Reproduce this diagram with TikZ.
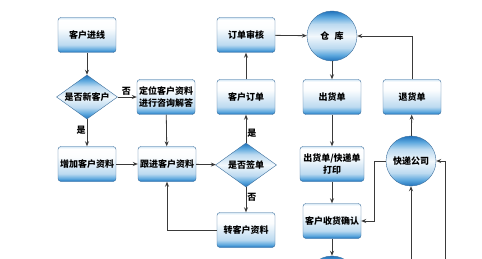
\documentclass[tikz,border=0pt]{standalone}
\usepackage{fontspec}
\newfontfamily\cjk{Noto Sans CJK SC}
\usetikzlibrary{arrows.meta, positioning, shapes.geometric}
\usepackage{xcolor}
\definecolor{edgeblue}{HTML}{3C6E9C}
\definecolor{bandblue}{HTML}{1F72BC}
\definecolor{midblue}{HTML}{5DA8DE}
\definecolor{paleblue}{HTML}{BCDAF0}
\definecolor{topblue}{HTML}{D2E6F5}
\definecolor{linegray}{HTML}{3A3A3A}
\pgfdeclareverticalshading{boxshade}{100bp}{color(0bp)=(bandblue); color(25bp)=(bandblue); color(29bp)=(midblue); color(36bp)=(paleblue); color(60bp)=(white!95!paleblue); color(72bp)=(white); color(75bp)=(topblue); color(100bp)=(topblue)}
\pgfdeclareverticalshading{roundshade}{100bp}{color(0bp)=(bandblue); color(25bp)=(bandblue); color(31bp)=(midblue); color(38bp)=(paleblue); color(50bp)=(white!80!paleblue); color(62bp)=(paleblue); color(69bp)=(midblue); color(75bp)=(bandblue); color(100bp)=(bandblue)}

\begin{document}
\begin{tikzpicture}[
    x=1pt, y=-1pt,
    entity/.style={draw=edgeblue, rectangle, rounded corners=3pt, minimum width=58pt,
                   minimum height=35pt, inner sep=1pt, align=center, shading=boxshade,
                   font=\cjk\bfseries\fontsize{9}{12}\selectfont},
    decision/.style={draw=edgeblue, diamond, aspect=1.4, minimum width=61pt,
                     minimum height=44pt, inner sep=0pt, shading=roundshade,
                     font=\cjk\bfseries\fontsize{9}{11}\selectfont},
    store/.style={draw=edgeblue, circle, minimum size=50pt, inner sep=0pt,
                  shading=roundshade, font=\cjk\bfseries\fontsize{9}{11}\selectfont},
    arrow/.style={-{Stealth[length=5pt, width=4pt]}, thick, draw=linegray},
    lbl/.style={font=\cjk\bfseries\fontsize{9}{10}\selectfont, inner sep=1pt},
]
\useasboundingbox (0,0) rectangle (482,259);
\clip (0,0) rectangle (482,259);
\fill[white] (0,0) rectangle (482,259);

% left part
\node[entity] (jx) at (87,35) {客户进线};
\node[decision] (xkh) at (87,97) {是否新客户};
\node[entity] (dw) at (166,97) {定位客户资料\\进行咨询解答};
\node[entity] (zj) at (87,164) {增加客户资料};
\node[entity] (gj) at (167,164) {跟进客户资料};

% middle part
\node[decision] (qd) at (246,165) {是否签单};
\node[entity] (dd) at (246,97) {客户订单};
\node[entity] (sh) at (246,35) {订单审核};
\node[entity] (zk) at (246,230) {转客户资料};

% right part
\node[store] (ck) at (332,36) {仓\hspace{0.6em}库};
\node[entity] (chd) at (332,97) {出货单};
\node[entity, minimum width=64pt] (dy) at (332,164) {出货单/快递单\\打印};
\node[entity] (sq) at (332,221) {客户收货确认};
\node[store] (nx) at (332,281) {};
\node[entity] (th) at (412,97) {退货单};
\node[store] (kd) at (411,161) {快递公司};
\coordinate (in1) at (411,270);
\coordinate (in2) at (445,270);

\draw[arrow] (jx) -- (xkh);
\draw[arrow] (xkh) -- node[lbl, above, pos=0.45] {否} (dw);
\draw[arrow] (xkh) -- node[lbl, left, pos=0.4] {是} (zj);
\draw[arrow] (dw) -- (gj);
\draw[arrow] (zj) -- (gj);
\draw[arrow] (gj) -- (qd);
\draw[arrow] (qd) -- node[lbl, right, pos=0.35] {是} (dd);
\draw[arrow] (dd) -- (sh);
\draw[arrow] (qd) -- node[lbl, right, pos=0.4] {否} (zk);
\draw[arrow] (zk) -| (gj);
\draw[arrow] (sh) -- (ck);
\draw[arrow] (ck) -- (chd);
\draw[arrow] (chd) -- (dy);
\draw[arrow] (dy) -- (sq);
\draw[arrow] (sq) -- (nx);
\draw[arrow] (th) |- (ck);
\draw[arrow] (kd) -- (th);
\draw[arrow] (kd.west) -- ++(-11,0) |- (sq.east);
\draw[arrow] (in1) -- (kd);
\draw[arrow] (in2) |- (kd.east);
\end{tikzpicture}
\end{document}
